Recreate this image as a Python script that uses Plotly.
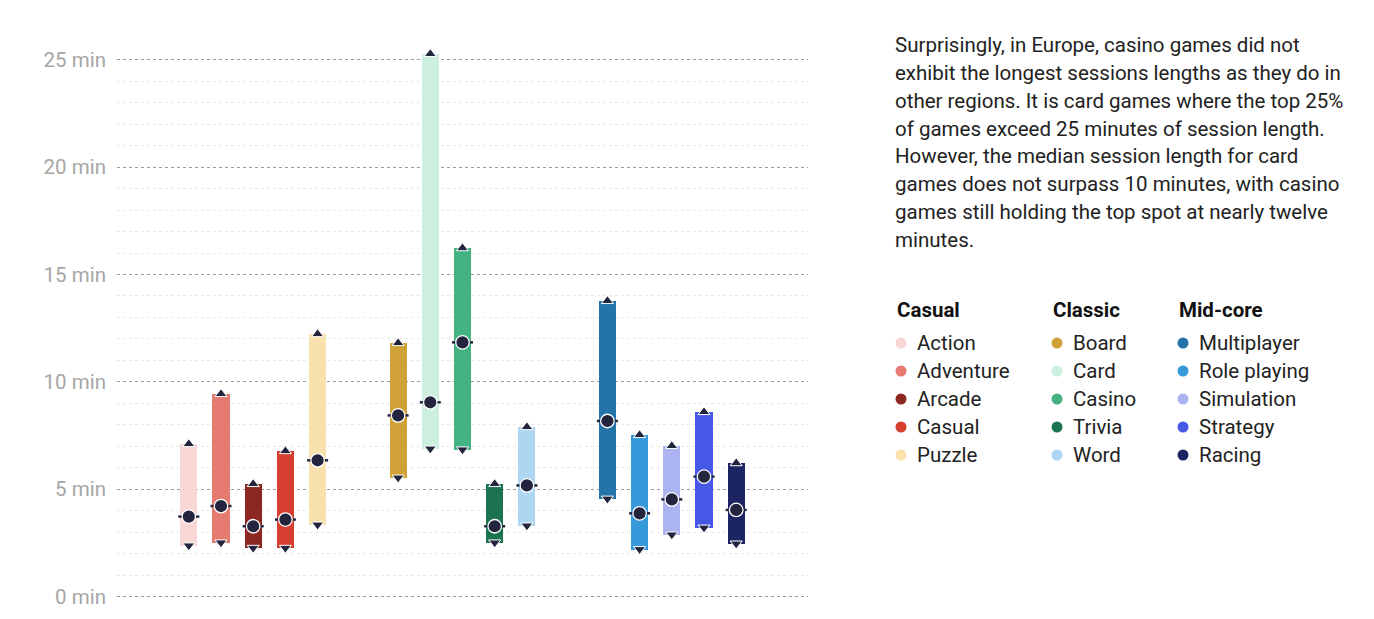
import plotly.graph_objects as go

# ---- data ----
genres = ["Action", "Adventure", "Arcade", "Casual", "Puzzle",
          "Board", "Card", "Casino", "Trivia", "Word",
          "Multiplayer", "Role playing", "Simulation", "Strategy", "Racing"]
groups = ["Casual", "Classic", "Mid-core"]
group_of = ["Casual"] * 5 + ["Classic"] * 5 + ["Mid-core"] * 5
x_pos = [0, 1, 2, 3, 4, 6.5, 7.5, 8.5, 9.5, 10.5, 13, 14, 15, 16, 17]
low = [2.38, 2.52, 2.27, 2.27, 3.35, 5.54, 6.89, 6.85, 2.52, 3.31, 4.56, 2.21, 2.89, 3.21, 2.47]
median = [3.73, 4.22, 3.28, 3.59, 6.35, 8.44, 9.05, 11.84, 3.28, 5.18, 8.18, 3.88, 4.53, 5.59, 4.04]
high = [7.11, 9.44, 5.25, 6.78, 12.23, 11.81, 25.27, 16.23, 5.25, 7.90, 13.77, 7.53, 7.02, 8.60, 6.22]
colors = ["#f9d7d4", "#e57a70", "#8b2620", "#d63e2f", "#f8e1ad",
          "#d0a136", "#ccefe0", "#43b383", "#1b7350", "#acd6f2",
          "#2474aa", "#3599da", "#abb3f0", "#4659e6", "#1d2462"]
y_ticks = [0, 5, 10, 15, 20, 25]

paragraph = [
    "Surprisingly, in Europe, casino games did not",
    "exhibit the longest sessions lengths as they do in",
    "other regions. It is card games where the top 25%",
    "of games exceed 25 minutes of session length.",
    "However, the median session length for card",
    "games does not surpass 10 minutes, with casino",
    "games still holding the top spot at nearly twelve",
    "minutes.",
]

DARK = "#23253f"
FONT = "Roboto"
W, H = 1374, 619
FS = 20.5

fig = go.Figure()

fig.add_trace(go.Bar(
    x=x_pos, y=[h - l for h, l in zip(high, low)], base=low,
    width=0.53, marker=dict(color=colors, line=dict(width=0)),
    hoverinfo="skip", showlegend=False))

# median line
fig.add_trace(go.Scatter(
    x=x_pos, y=median, mode="markers", cliponaxis=False,
    marker=dict(symbol="line-ew", size=15, line=dict(color=DARK, width=2.5)),
    showlegend=False, hoverinfo="skip"))
# median circle
fig.add_trace(go.Scatter(
    x=x_pos, y=median, mode="markers", cliponaxis=False,
    marker=dict(symbol="circle", size=13.5, color=DARK, line=dict(color="white", width=1.3)),
    showlegend=False, hoverinfo="skip"))
# top triangles
fig.add_trace(go.Scatter(
    x=x_pos, y=high, mode="markers", cliponaxis=False,
    marker=dict(symbol="triangle-up", size=10.5, color=DARK, line=dict(color="white", width=1)),
    showlegend=False, hoverinfo="skip"))
# bottom triangles
fig.add_trace(go.Scatter(
    x=x_pos, y=low, mode="markers", cliponaxis=False,
    marker=dict(symbol="triangle-down", size=10.5, color=DARK, line=dict(color="white", width=1)),
    showlegend=False, hoverinfo="skip"))

# ---- legend in pixel overlay axis ----
col_x = {"Casual": 896, "Classic": 1052, "Mid-core": 1178}
header_y = 310
item_y0, item_dy = 343, 28
leg_x, leg_y, leg_c = [], [], []
annotations = []
for g in groups:
    annotations.append(dict(x=col_x[g] - 1, y=header_y, xref="x2", yref="y2", text="<b>" + g + "</b>",
                            showarrow=False, xanchor="left", yanchor="middle",
                            font=dict(family=FONT, size=FS, color="#111111")))
    idx = [i for i, gg in enumerate(group_of) if gg == g]
    for k, i in enumerate(idx):
        yy = item_y0 + k * item_dy
        leg_x.append(col_x[g] + 5)
        leg_y.append(yy)
        leg_c.append(colors[i])
        annotations.append(dict(x=col_x[g] + 19, y=yy, xref="x2", yref="y2", text=genres[i],
                                showarrow=False, xanchor="left", yanchor="middle",
                                font=dict(family=FONT, size=FS, color="#222222")))

fig.add_trace(go.Scatter(
    x=leg_x, y=leg_y, xaxis="x2", yaxis="y2", mode="markers",
    marker=dict(size=11, color=leg_c), showlegend=False, hoverinfo="skip"))

for i, line in enumerate(paragraph):
    annotations.append(dict(x=893, y=45 + i * 27.86, xref="x2", yref="y2", text=line,
                            showarrow=False, xanchor="left", yanchor="middle",
                            font=dict(family=FONT, size=FS, color="#222222")))

y_lo, y_hi = -0.5, 25.7
px0, ppu = 596.7, 21.48
bot_px = px0 - y_lo * ppu
top_px = px0 - y_hi * ppu

fig.update_layout(
    width=W, height=H, margin=dict(l=0, r=0, t=0, b=0),
    paper_bgcolor="white", plot_bgcolor="rgba(0,0,0,0)",
    bargap=0, showlegend=False,
    font=dict(family=FONT),
    xaxis=dict(domain=[117 / W, 808 / W], range=[-2.23, 19.23], visible=False, fixedrange=True),
    yaxis=dict(domain=[(H - bot_px) / H, (H - top_px) / H], range=[y_lo, y_hi],
               tickvals=y_ticks, ticktext=[f"{v} min" for v in y_ticks],
               showgrid=True, gridcolor="#9a9a9a", griddash="dot", gridwidth=1,
               zeroline=False, showline=False, ticks="", ticklabelstandoff=10,
               tickfont=dict(family=FONT, size=FS, color="#a6a6a6"),
               minor=dict(tick0=0, dtick=1, showgrid=True, gridcolor="#e8e8e8",
                          griddash="dot", gridwidth=1)),
    xaxis2=dict(domain=[0, 1], range=[0, W], visible=False, anchor="y2", fixedrange=True),
    yaxis2=dict(domain=[0, 1], range=[H, 0], visible=False, anchor="x2", fixedrange=True),
    annotations=annotations,
)

fig.write_html("out.html")
